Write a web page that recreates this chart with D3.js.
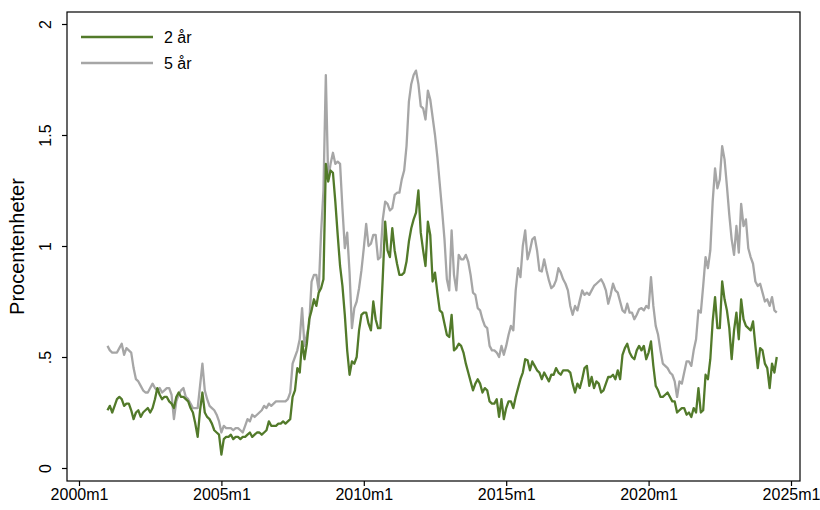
<!DOCTYPE html>
<html>
<head>
<meta charset="utf-8">
<script src="https://cdn.jsdelivr.net/npm/d3@7"></script>
<style>
  html, body { margin: 0; padding: 0; background: #fff; }
  svg { display: block; font-family: "Liberation Sans", Arial, sans-serif; }
</style>
</head>
<body>
<svg id="chart" width="820" height="510"></svg>
<script>
// Monthly data, 2001m1 .. 2024m7
const startYear = 2001, startMonth = 1;
const seriesNames = ["2 år", "5 år"];
const xTickLabels = ["2000m1", "2005m1", "2010m1", "2015m1", "2020m1", "2025m1"];
const yTickValues = [0, 0.5, 1, 1.5, 2];
const yTickLabels = ["0", ".5", "1", "1.5", "2"];
const yTitle = "Procentenheter";

const twoYear = [
  // 2001
  0.26, 0.28, 0.25, 0.28, 0.31, 0.32, 0.31, 0.28, 0.29, 0.29, 0.26, 0.22,
  // 2002
  0.25, 0.26, 0.23, 0.25, 0.26, 0.27, 0.25, 0.27, 0.31, 0.36, 0.33, 0.31,
  // 2003
  0.32, 0.32, 0.30, 0.29, 0.27, 0.32, 0.34, 0.32, 0.32, 0.31, 0.30, 0.27,
  // 2004
  0.25, 0.20, 0.14, 0.26, 0.34, 0.25, 0.23, 0.22, 0.20, 0.17, 0.16, 0.15,
  // 2005
  0.06, 0.13, 0.14, 0.14, 0.15, 0.13, 0.14, 0.14, 0.13, 0.14, 0.14, 0.15,
  // 2006
  0.16, 0.14, 0.15, 0.16, 0.16, 0.15, 0.16, 0.17, 0.21, 0.19, 0.19, 0.19,
  // 2007
  0.20, 0.20, 0.21, 0.20, 0.21, 0.22, 0.32, 0.35, 0.45, 0.43, 0.57, 0.49,
  // 2008
  0.56, 0.67, 0.71, 0.76, 0.73, 0.79, 0.81, 0.85, 1.37, 1.29, 1.34, 1.33,
  // 2009
  1.20, 1.05, 0.91, 0.82, 0.69, 0.53, 0.42, 0.48, 0.47, 0.50, 0.62, 0.69,
  // 2010
  0.70, 0.70, 0.65, 0.62, 0.75, 0.67, 0.63, 0.63, 0.86, 1.11, 0.98, 0.95,
  // 2011
  1.08, 0.98, 0.92, 0.87, 0.87, 0.88, 0.93, 1.02, 1.08, 1.12, 1.15, 1.25,
  // 2012
  1.06, 0.98, 0.91, 1.11, 1.05, 0.84, 0.88, 0.79, 0.71, 0.70, 0.65, 0.60,
  // 2013
  0.59, 0.69, 0.53, 0.54, 0.56, 0.55, 0.52, 0.47, 0.43, 0.39, 0.35, 0.38,
  // 2014
  0.40, 0.38, 0.34, 0.36, 0.35, 0.30, 0.29, 0.29, 0.31, 0.23, 0.31, 0.22,
  // 2015
  0.27, 0.30, 0.30, 0.27, 0.32, 0.36, 0.40, 0.43, 0.49, 0.485, 0.44, 0.48,
  // 2016
  0.46, 0.44, 0.43, 0.40, 0.43, 0.41, 0.39, 0.42, 0.42, 0.45, 0.43, 0.42,
  // 2017
  0.44, 0.44, 0.44, 0.43, 0.38, 0.34, 0.38, 0.36, 0.40, 0.45, 0.46, 0.37,
  // 2018
  0.41, 0.36, 0.39, 0.38, 0.34, 0.35, 0.38, 0.41, 0.41, 0.42, 0.40, 0.44,
  // 2019
  0.40, 0.51, 0.54, 0.56, 0.52, 0.50, 0.49, 0.53, 0.55, 0.53, 0.55, 0.49,
  // 2020
  0.52, 0.57, 0.46, 0.37, 0.35, 0.32, 0.32, 0.33, 0.34, 0.32, 0.30, 0.30,
  // 2021
  0.25, 0.26, 0.27, 0.27, 0.24, 0.25, 0.23, 0.27, 0.25, 0.36, 0.25, 0.26,
  // 2022
  0.42, 0.40, 0.49, 0.66, 0.77, 0.63, 0.63, 0.84, 0.76, 0.71, 0.63, 0.49,
  // 2023
  0.62, 0.70, 0.58, 0.76, 0.67, 0.64, 0.63, 0.62, 0.66, 0.55, 0.45, 0.54,
  // 2024
  0.53, 0.47, 0.45, 0.36, 0.47, 0.43, 0.50
];

const fiveYear = [
  // 2001
  0.55, 0.53, 0.52, 0.52, 0.52, 0.54, 0.56, 0.51, 0.54, 0.53, 0.52, 0.45,
  // 2002
  0.40, 0.39, 0.37, 0.35, 0.34, 0.34, 0.36, 0.38, 0.36, 0.35, 0.36, 0.34,
  // 2003
  0.35, 0.36, 0.36, 0.33, 0.22, 0.30, 0.33, 0.35, 0.36, 0.32, 0.31, 0.29,
  // 2004
  0.27, 0.27, 0.27, 0.37, 0.47, 0.35, 0.31, 0.28, 0.27, 0.26, 0.24, 0.21,
  // 2005
  0.16, 0.19, 0.18, 0.18, 0.18, 0.17, 0.18, 0.18, 0.17, 0.16, 0.19, 0.22,
  // 2006
  0.21, 0.24, 0.23, 0.24, 0.25, 0.26, 0.28, 0.27, 0.29, 0.28, 0.29, 0.30,
  // 2007
  0.30, 0.30, 0.30, 0.30, 0.31, 0.34, 0.47, 0.50, 0.53, 0.58, 0.72, 0.55,
  // 2008
  0.60, 0.65, 0.84, 0.87, 0.87, 0.80, 1.06, 1.25, 1.77, 1.30, 1.37, 1.42,
  // 2009
  1.37, 1.38, 1.37, 1.17, 0.99, 1.06, 0.88, 0.63, 0.72, 0.75, 0.81, 0.89,
  // 2010
  0.99, 1.10, 1.00, 1.01, 1.05, 1.05, 0.94, 0.95, 1.12, 1.20, 1.19, 1.16,
  // 2011
  1.17, 1.23, 1.24, 1.24, 1.30, 1.34, 1.45, 1.65, 1.73, 1.77, 1.79, 1.73,
  // 2012
  1.63, 1.62, 1.57, 1.70, 1.66, 1.58, 1.50, 1.40, 1.28, 1.16, 1.03, 0.85,
  // 2013
  0.80, 1.07, 0.87, 0.80, 0.96, 0.94, 0.94, 0.96, 0.93, 0.87, 0.79, 0.78,
  // 2014
  0.72, 0.71, 0.67, 0.64, 0.63, 0.55, 0.53, 0.53, 0.52, 0.50, 0.55, 0.51,
  // 2015
  0.55, 0.60, 0.64, 0.62, 0.80, 0.90, 0.86, 1.00, 1.07, 0.94, 0.98, 1.03,
  // 2016
  1.04, 0.98, 0.89, 0.885, 0.94, 0.89, 0.845, 0.81, 0.82, 0.845, 0.90, 0.88,
  // 2017
  0.85, 0.83, 0.80, 0.73, 0.69, 0.73, 0.71, 0.755, 0.80, 0.78, 0.79, 0.78,
  // 2018
  0.80, 0.82, 0.83, 0.84, 0.85, 0.83, 0.80, 0.74, 0.78, 0.83, 0.80, 0.79,
  // 2019
  0.75, 0.71, 0.70, 0.74, 0.70, 0.70, 0.67, 0.69, 0.715, 0.72, 0.71, 0.73,
  // 2020
  0.72, 0.86, 0.73, 0.64, 0.60, 0.53, 0.47, 0.46, 0.45, 0.43, 0.42, 0.39,
  // 2021
  0.32, 0.39, 0.38, 0.43, 0.48, 0.48, 0.46, 0.53, 0.58, 0.71, 0.70, 0.82,
  // 2022
  0.95, 0.90, 0.98, 1.20, 1.35, 1.26, 1.30, 1.45, 1.39, 1.27, 1.14, 1.03,
  // 2023
  0.96, 1.09, 0.97, 1.19, 1.09, 1.12, 0.99, 0.95, 0.92, 0.84, 0.82, 0.83,
  // 2024
  0.79, 0.75, 0.76, 0.73, 0.77, 0.71, 0.70
];

// month index relative to 2000m1
const monthIdx = twoYear.map((_, i) => (startYear - 2000) * 12 + (startMonth - 1) + i);
const xTickIdx = xTickLabels.map(s => { const [y, m] = s.split("m").map(Number); return (y - 2000) * 12 + (m - 1); });

const svg = d3.select("#chart");
const frame = { left: 67, right: 800, top: 12, bottom: 481 };

const x = d3.scaleLinear().domain([0, 300]).range([79, 791]);
const y = d3.scaleLinear().domain([0, 2]).range([468, 24]);

const colors = ["#527a2a", "#a6a6a6"];
const fontFam = "'Liberation Sans', Arial, sans-serif";

// frame
svg.append("rect")
  .attr("x", frame.left).attr("y", frame.top)
  .attr("width", frame.right - frame.left).attr("height", frame.bottom - frame.top)
  .attr("fill", "none").attr("stroke", "#000").attr("stroke-width", 1.2);

// x axis
const xAxis = d3.axisBottom(x)
  .tickValues(xTickIdx)
  .tickFormat((d, i) => xTickLabels[i])
  .tickSize(5).tickSizeOuter(0).tickPadding(3);
const gx = svg.append("g").attr("transform", `translate(0,${frame.bottom})`).call(xAxis);
gx.select(".domain").remove();
gx.selectAll("line").attr("stroke", "#000").attr("stroke-width", 1.2);
gx.selectAll("text").attr("font-size", 16).attr("fill", "#000").attr("font-family", fontFam);

// y axis
const yAxis = d3.axisLeft(y)
  .tickValues(yTickValues)
  .tickFormat((d, i) => yTickLabels[i])
  .tickSize(5).tickSizeOuter(0);
const gy = svg.append("g").attr("transform", `translate(${frame.left},0)`).call(yAxis);
gy.select(".domain").remove();
gy.selectAll("line").attr("stroke", "#000").attr("stroke-width", 1.2);
gy.selectAll("text")
  .attr("font-size", 16).attr("fill", "#000").attr("font-family", fontFam)
  .attr("x", null).attr("dy", null).attr("y", 0)
  .attr("transform", "translate(-16,0) rotate(-90)")
  .attr("text-anchor", "middle");

// y title
svg.append("text")
  .attr("transform", `translate(24,${(frame.top + frame.bottom) / 2}) rotate(-90)`)
  .attr("text-anchor", "middle")
  .attr("font-size", 20)
  .attr("fill", "#000")
  .text(yTitle);

// lines
const line = d3.line().x(d => x(d[0])).y(d => y(d[1]));
const seriesData = [twoYear, fiveYear];
[1, 0].forEach(k => {
  svg.append("path")
    .datum(seriesData[k].map((v, i) => [monthIdx[i], v]))
    .attr("fill", "none")
    .attr("stroke", colors[k])
    .attr("stroke-width", 2.3)
    .attr("stroke-linejoin", "round")
    .attr("d", line);
});

// legend
const legend = svg.append("g");
seriesNames.forEach((name, k) => {
  const ly = 37 + k * 26;
  legend.append("line")
    .attr("x1", 81).attr("x2", 153).attr("y1", ly).attr("y2", ly)
    .attr("stroke", colors[k]).attr("stroke-width", 2.3);
  legend.append("text")
    .attr("x", 164).attr("y", ly).attr("dy", "0.35em")
    .attr("font-size", 16).attr("fill", "#000")
    .text(name);
});
</script>
</body>
</html>
